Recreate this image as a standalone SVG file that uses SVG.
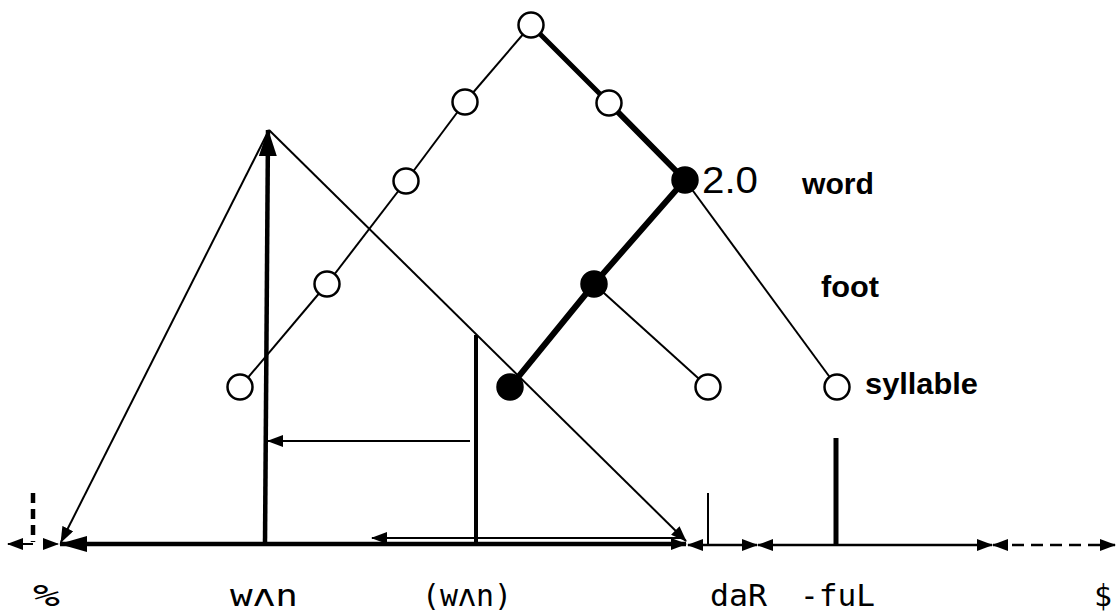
<svg xmlns="http://www.w3.org/2000/svg" width="1116" height="616" viewBox="0 0 1116 616">
<style>
.thin{stroke:#000;stroke-width:2;fill:none}
.thick{stroke:#000;stroke-width:6;fill:none;stroke-linecap:round}
.bar{stroke:#000;fill:none}
.open{fill:#fff;stroke:#000;stroke-width:2.5}
.full{fill:#000;stroke:#000;stroke-width:2.5}
.lbl{font-family:"Liberation Sans",Arial,sans-serif;font-size:30px;font-weight:bold;fill:#000}
.num{font-family:"Liberation Sans",Arial,sans-serif;font-size:36px;fill:#000}
.ph{font-family:"DejaVu Sans Mono","Liberation Mono",monospace;font-size:31px;fill:#000}
</style>
<defs>
<marker id="ah" markerUnits="userSpaceOnUse" markerWidth="16" markerHeight="12" refX="15" refY="6" orient="auto-start-reverse" viewBox="0 0 16 12"><path d="M0,0 L16,6 L0,12 Z" fill="#000"/></marker>
<marker id="ahB" markerUnits="userSpaceOnUse" markerWidth="28" markerHeight="16" refX="27" refY="8" orient="auto-start-reverse" viewBox="0 0 28 16"><path d="M0,0 L28,8 L0,16 Z" fill="#000"/></marker>
<marker id="ahU" markerUnits="userSpaceOnUse" markerWidth="27" markerHeight="18" refX="26" refY="9" orient="auto" viewBox="0 0 27 18"><path d="M0,0 L27,9 L0,18 Z" fill="#000"/></marker>
</defs>
<g id="connectors">
<line class="thin" x1="531" y1="25" x2="465" y2="102"/>
<line class="thin" x1="465" y1="102" x2="406" y2="181"/>
<line class="thin" x1="406" y1="181" x2="327" y2="284"/>
<line class="thin" x1="327" y1="284" x2="240" y2="387"/>
<line class="thick" x1="531" y1="25" x2="609" y2="103" style="stroke-width:5"/>
<line class="thick" x1="609" y1="103" x2="685" y2="180"/>
<line class="thick" x1="685" y1="180" x2="594" y2="284"/>
<line class="thick" x1="594" y1="284" x2="510" y2="387"/>
<line class="thin" x1="594" y1="284" x2="708" y2="387"/>
<line class="thin" x1="685" y1="180" x2="837" y2="387"/>
<line class="thin" x1="269" y1="130" x2="61" y2="542" marker-end="url(#ah)"/>
<line class="thin" x1="269" y1="130" x2="686" y2="541" marker-end="url(#ah)"/>
<line class="bar" x1="265" y1="544" x2="268" y2="130" style="stroke-width:4.5" marker-end="url(#ahU)"/>
<line class="bar" x1="476" y1="335" x2="476" y2="546" style="stroke-width:4"/>
<line class="bar" x1="708" y1="493" x2="708" y2="545" style="stroke-width:2"/>
<line class="bar" x1="836" y1="438" x2="836" y2="545" style="stroke-width:5"/>
<line class="thin" x1="470" y1="441" x2="268" y2="441" marker-end="url(#ah)"/>
<line class="bar" x1="33" y1="493" x2="33" y2="542" style="stroke-width:4.5;stroke-dasharray:10,6"/>
<line class="thin" x1="33" y1="544" x2="8" y2="544" marker-end="url(#ah)"/>
<line class="thin" x1="50" y1="544" x2="58" y2="544" style="stroke-width:1" marker-end="url(#ah)"/>
<line class="bar" x1="60" y1="544" x2="686" y2="544" style="stroke-width:4.5" marker-start="url(#ahB)" marker-end="url(#ah)"/>
<line class="thin" x1="372" y1="538" x2="683" y2="538" marker-start="url(#ah)"/>
<line class="thin" x1="688" y1="545" x2="757" y2="545" style="stroke-width:2.5" marker-start="url(#ah)" marker-end="url(#ah)"/>
<line class="thin" x1="758" y1="545" x2="992" y2="545" style="stroke-width:2.5" marker-start="url(#ah)" marker-end="url(#ah)"/>
<line class="thin" x1="993" y1="545" x2="1115" y2="545" style="stroke-width:2.5;stroke-dasharray:12,7" marker-start="url(#ah)" marker-end="url(#ah)"/>
</g>
<g id="n-root"><circle class="open" cx="531" cy="25" r="12.5"/></g>
<g id="n-l1"><circle class="open" cx="465" cy="102" r="12.5"/></g>
<g id="n-l2"><circle class="open" cx="406" cy="181" r="12.5"/></g>
<g id="n-l3"><circle class="open" cx="327" cy="284" r="12.5"/></g>
<g id="n-l4"><circle class="open" cx="240" cy="387" r="12.5"/></g>
<g id="n-r1"><circle class="open" cx="609" cy="103" r="12.5"/></g>
<g id="n-word"><circle class="full" cx="685" cy="180" r="12.5"/><text class="num" x="702" y="193" textLength="56" lengthAdjust="spacingAndGlyphs">2.0</text></g>
<g id="n-foot"><circle class="full" cx="594" cy="284" r="12.5"/></g>
<g id="n-syl1"><circle class="full" cx="510" cy="387" r="12.5"/></g>
<g id="n-syl2"><circle class="open" cx="708" cy="387" r="12.5"/></g>
<g id="n-syl3"><circle class="open" cx="837" cy="387" r="12.5"/></g>
<g id="labels">
<text class="lbl" x="802" y="194" textLength="72" lengthAdjust="spacingAndGlyphs">word</text>
<text class="lbl" x="821" y="297" textLength="58" lengthAdjust="spacingAndGlyphs">foot</text>
<text class="lbl" x="865" y="394" textLength="113" lengthAdjust="spacingAndGlyphs">syllable</text>
<text class="ph" x="33" y="606" textLength="27" lengthAdjust="spacingAndGlyphs">%</text>
<text class="ph" x="230" y="606" textLength="68" lengthAdjust="spacingAndGlyphs">wʌn</text>
<text class="ph" x="422" y="606" textLength="90" lengthAdjust="spacingAndGlyphs">(wʌn)</text>
<text class="ph" x="710" y="606" textLength="57" lengthAdjust="spacingAndGlyphs">daR</text>
<text class="ph" x="800" y="606" textLength="75" lengthAdjust="spacingAndGlyphs">-fuL</text>
<text class="ph" x="1094" y="606" textLength="18" lengthAdjust="spacingAndGlyphs">$</text>
</g>
</svg>
